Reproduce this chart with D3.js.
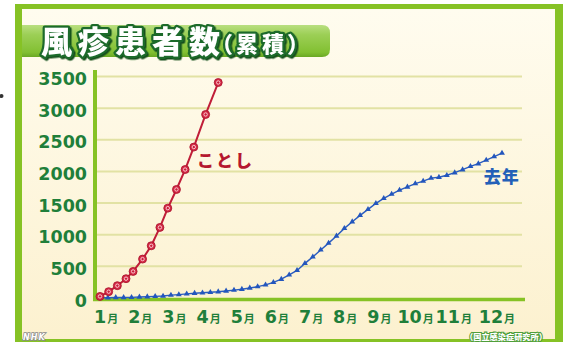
<!DOCTYPE html>
<html><head><meta charset="utf-8">
<script src="https://cdn.jsdelivr.net/npm/d3@7"></script>
<style>html,body{margin:0;padding:0;background:#fff;} svg{display:block}</style>
</head><body>
<svg id="c" width="568" height="342"></svg>
<script>
// ---- data ----
const yTickValues = [0, 500, 1000, 1500, 2000, 2500, 3000, 3500];
const monthLabels = ["1", "2", "3", "4", "5", "6", "7", "8", "9", "10", "11", "12"];
const monthUnit = "月";
const titleMain = "風疹患者数";
const titleSub = "（累積）";
const seriesThisYearName = "ことし";
const seriesLastYearName = "去年";
const sourceText = "（国立感染症研究所）";
// this year (cumulative), x in weeks
const thisYearWeeks = [1, 2.1, 3.2, 4.3, 5.2, 6.4, 7.5, 8.6, 9.6, 10.7, 11.8, 12.9, 14.4, 16];
const thisYearValues = [25, 100, 195, 305, 420, 615, 825, 1115, 1420, 1715, 2030, 2385, 2900, 3405];
// last year (cumulative), weekly
const lastYearWeeks = [1,2,3,4,5,6,7,8,9,10,11,12,13,14,15,16,17,18,19,20,21,22,23,24,25,26,
  27,28,29,30,31,32,33,34,35,36,37,38,39,40,41,42,43,44,45,46,47,48,49,50,51,52];
const lastYearValues = [3,5,8,9,10,16,20,25,31,45,54,65,75,82,90,99,111,124,138,158,179,208,248,297,365,436,
  547,650,760,867,980,1100,1206,1305,1400,1496,1575,1641,1705,1755,1808,1848,1894,1908,1939,1980,2027,2080,2122,2180,2234,2290];

// ---- drawing ----
const svg = d3.select("#c");
const defs = svg.append("defs");
const bg = defs.append("linearGradient").attr("id","bg").attr("x1",0).attr("y1",0).attr("x2",0).attr("y2",1);
bg.append("stop").attr("offset","0").attr("stop-color","#fffcef");
bg.append("stop").attr("offset","1").attr("stop-color","#fcf1cf");
const bn = defs.append("linearGradient").attr("id","bn").attr("x1",0).attr("y1",0).attr("x2",0).attr("y2",1);
bn.append("stop").attr("offset","0").attr("stop-color","#b9df80");
bn.append("stop").attr("offset","0.3").attr("stop-color","#9ccf56");
bn.append("stop").attr("offset","0.85").attr("stop-color","#82c032");
bn.append("stop").attr("offset","1").attr("stop-color","#6aa824");
const sh = defs.append("filter").attr("id","sh").attr("x","-10%").attr("y","-20%").attr("width","130%").attr("height","150%");
sh.append("feDropShadow").attr("dx",1.5).attr("dy",1.5).attr("stdDeviation",0.4)
  .attr("flood-color","#124f1e").attr("flood-opacity",1);

// frame
svg.append("rect").attr("x",15).attr("y",4).attr("width",548).attr("height",345).attr("fill","#86c225");
svg.append("rect").attr("x",22).attr("y",9).attr("width",533).attr("height",330).attr("fill","url(#bg)");
svg.append("circle").attr("cx",1.5).attr("cy",96).attr("r",2).attr("fill","#333");

// title banner
svg.append("path")
  .attr("d","M22,25 H322 Q330,25 330,33 V49 Q330,57 322,57 H22 Z")
  .attr("fill","url(#bn)");
const titleG = svg.append("g").attr("filter","url(#sh)")
  .attr("font-family","'Noto Sans CJK JP', sans-serif").attr("font-weight",900)
  .attr("fill","#ffffff").attr("stroke","#1d6b2c").attr("stroke-width",4.5)
  .attr("stroke-linejoin","round").attr("paint-order","stroke");
titleG.append("text").attr("x",41).attr("y",53)
  .attr("font-size",31).attr("letter-spacing",6).text(titleMain);
titleG.append("text").attr("x",221).attr("y",52)
  .attr("font-size",22).attr("letter-spacing",4)
  .style("font-feature-settings","'palt'").text(titleSub);

// scales
const x = d3.scaleLinear().domain([1, 52]).range([100, 502]);
const y = d3.scaleLinear().domain([0, 3500]).range([298, 76.5]);

// gridlines
svg.append("g").selectAll("line").data(yTickValues.filter(d => d > 0)).join("line")
  .attr("x1",95).attr("x2",522).attr("y1",d=>y(d)).attr("y2",d=>y(d))
  .attr("stroke","#e2e2a4").attr("stroke-width",2);

// y axis labels
const yAxis = svg.append("g").attr("transform","translate(95,0)")
  .call(d3.axisLeft(y).tickValues(yTickValues).tickSize(0).tickPadding(8).tickFormat(d3.format("d")));
yAxis.select(".domain").remove();
yAxis.selectAll("text")
  .attr("font-family","'DejaVu Sans', sans-serif").attr("font-weight","bold")
  .attr("font-size",17.5).attr("fill","#1f7f3a").attr("dy","0.46em");

// axis lines
svg.append("line").attr("x1",95).attr("x2",95).attr("y1",70).attr("y2",301)
  .attr("stroke","#86c225").attr("stroke-width",4);
svg.append("line").attr("x1",93).attr("x2",525).attr("y1",299.5).attr("y2",299.5)
  .attr("stroke","#86c225").attr("stroke-width",3.5);

// month labels (wider two-digit labels are spread slightly)
const monthStartWeek = i => 1 + i * 52 / 12;
const labelNudge = i => (i === 9 ? -4 : i === 11 ? 9 : 0);
const ml = svg.append("g").selectAll("text").data(monthLabels).join("text")
  .attr("x",(d,i)=> x(monthStartWeek(i)) - 6 + labelNudge(i))
  .attr("y",322.5)
  .attr("fill","#1f7f3a");
ml.append("tspan").attr("font-family","'DejaVu Sans', sans-serif").attr("font-weight","bold")
  .attr("font-size",17.5).text(d=>d);
ml.append("tspan").attr("font-family","'Noto Sans CJK JP', sans-serif").attr("font-weight","bold")
  .attr("font-size",11).attr("dx",1).text(monthUnit);

// last year line (blue, triangles)
const lastYear = lastYearWeeks.map((w,i)=>({w, v:lastYearValues[i]}));
svg.append("path").datum(lastYear)
  .attr("d", d3.line().x(d=>x(d.w)).y(d=>y(d.v)))
  .attr("fill","none").attr("stroke","#2a5cc0").attr("stroke-width",1.4);
svg.append("g").selectAll("path").data(lastYear).join("path")
  .attr("transform",d=>`translate(${x(d.w)},${y(d.v)})`)
  .attr("d", d3.symbol(d3.symbolTriangle, 15)())
  .attr("fill","#2356bd");

// this year line (red, circles)
const thisYear = thisYearWeeks.map((w,i)=>({w, v:thisYearValues[i]}));
svg.append("path").datum(thisYear)
  .attr("d", d3.line().x(d=>x(d.w)).y(d=>y(d.v)))
  .attr("fill","none").attr("stroke","#c01e38").attr("stroke-width",2);
const cg = svg.append("g").selectAll("g").data(thisYear).join("g")
  .attr("transform",d=>`translate(${x(d.w)},${y(d.v)})`);
cg.append("circle").attr("r",4).attr("fill","#d42a45").attr("stroke","#a8122c").attr("stroke-width",0.8);
cg.append("circle").attr("r",1.7).attr("fill","#c81f3a").attr("stroke","#ffd6dc").attr("stroke-width",0.9);

// series labels
svg.append("text").attr("x", x(13.3)).attr("y", y(2065))
  .attr("font-family","'Noto Sans CJK JP', sans-serif").attr("font-weight",900)
  .attr("font-size",17).attr("letter-spacing",2).attr("fill","#b5172f").text(seriesThisYearName);
svg.append("text").attr("x", x(49.7)).attr("y", y(1815))
  .attr("font-family","'Noto Sans CJK JP', sans-serif").attr("font-weight",900)
  .attr("font-size",17).attr("letter-spacing",1).attr("fill","#2360b8").text(seriesLastYearName);

// source and logo
svg.append("text").attr("x",465).attr("y",339.5)
  .attr("font-family","'Noto Sans CJK JP', sans-serif").attr("font-weight",900)
  .attr("font-size",8.2).attr("fill","#ffffff").attr("stroke","#4f9e3a").attr("stroke-width",2.2)
  .attr("paint-order","stroke").text(sourceText);
svg.append("text").attr("x",23).attr("y",339.5)
  .attr("font-family","'DejaVu Sans', sans-serif").attr("font-weight","bold").attr("font-style","italic")
  .attr("font-size",8).attr("fill","#ffffff").attr("stroke","#8a8a8a").attr("stroke-width",1.6)
  .attr("paint-order","stroke").attr("letter-spacing",1).text("NHK");
</script>
</body></html>
